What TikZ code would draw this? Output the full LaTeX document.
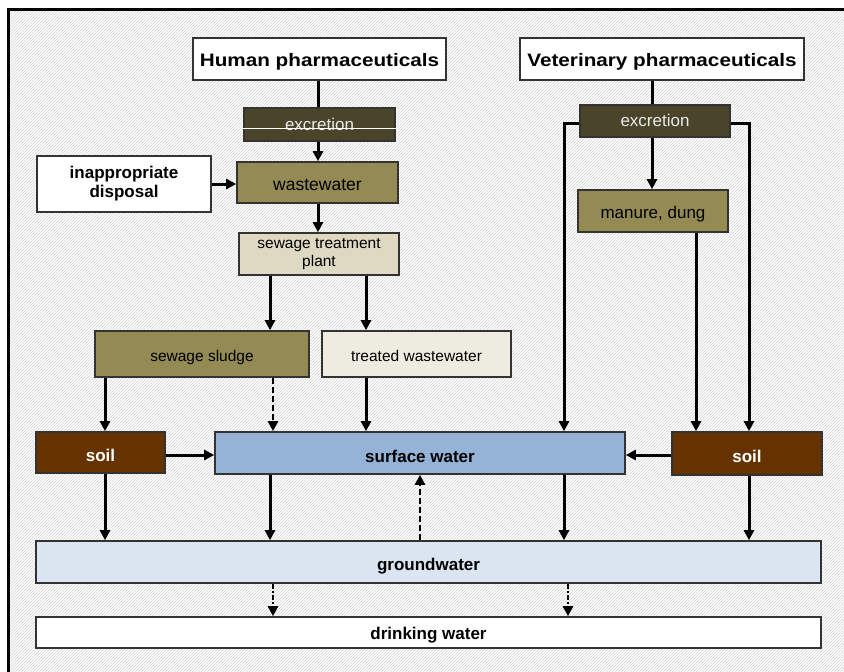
\documentclass[tikz,border=0pt]{standalone}
\usepackage{fontspec}
\setmainfont{Liberation Sans}
\usetikzlibrary{arrows.meta,patterns}
\definecolor{darkolive}{HTML}{4A452A}
\definecolor{olive}{HTML}{948A54}
\definecolor{tanmid}{HTML}{DDD9C3}
\definecolor{tanlight}{HTML}{EEECE1}
\definecolor{soilbrown}{HTML}{663300}
\definecolor{swblue}{HTML}{95B3D7}
\definecolor{gwblue}{HTML}{DBE5F1}
\definecolor{boxline}{HTML}{333333}
\tikzset{
  box/.style={draw=boxline, line width=1.6pt, inner sep=0pt, anchor=center, align=center},
  hdr/.style={box, fill=white, line width=2pt, font=\fontsize{18}{20}\selectfont\bfseries, text height=15.5pt, text depth=0pt},
  reg/.style={font=\fontsize{17}{19}\selectfont},
  sml/.style={font=\fontsize{15.5}{18}\selectfont},
  bld/.style={font=\fontsize{17}{19}\selectfont\bfseries},
  one/.style={text height=#1, text depth=0pt},
  conn/.style={line width=3pt, black},
  arr/.style={conn, -{Triangle[length=10pt,width=10pt]}},
  dsh/.style={arr, line width=2.6pt, dash pattern=on 6pt off 3pt},
  dsd/.style={arr, line width=2.6pt, dash pattern=on 5pt off 2pt on 2pt off 2pt},
}
\begin{document}
\begin{tikzpicture}[x=1pt,y=-1pt]
\useasboundingbox (0,0) rectangle (844,672);
\begin{scope}
\clip (0,0) rectangle (844,672);
\fill[white] (0,0) rectangle (844,672);
\fill[pattern=north east lines, pattern color=black!18] (8,9) rectangle (860,690);
\draw[line width=3pt] (8,9) rectangle (860,690);
\end{scope}

% x positions of connectors
\foreach \n/\x in {c105/105,c270/270,c273/273,c318/318,c366/366,c420/420,c564/564,c568/568,c652/652,c696/696,c749/749}
  \coordinate (\n) at (\x,0);
\coordinate (y455) at (0,455);
\coordinate (y123) at (0,123);

% nodes
\node[hdr, minimum width=253pt, minimum height=42pt] (hp) at (319.5,59) {\scalebox{1.15}[1]{Human pharmaceuticals}};
\node[hdr, minimum width=284pt, minimum height=42pt] (vp) at (662,59) {\scalebox{1.15}[1]{Veterinary pharmaceuticals}};
\node[box, reg, one=11pt, fill=darkolive, text=white!92!black, minimum width=151pt, minimum height=33pt] (hex) at (319.5,124.5) {excretion};
\node[box, font=\fontsize{17.5}{19}\selectfont, one=15pt, fill=olive, minimum width=161pt, minimum height=41pt] (ww) at (317.5,182.5) {wastewater};
\node[box, bld, fill=white, minimum width=174pt, minimum height=56pt] (disp) at (124,184) {inappropriate\\disposal};
\node[box, sml, fill=tanmid, minimum width=160pt, minimum height=42pt] (stp) at (319,254) {sewage treatment\\plant};
\node[box, sml, one=15pt, fill=olive, minimum width=214pt, minimum height=46pt] (sludge) at (202,354) {sewage sludge};
\node[box, sml, one=15pt, fill=tanlight, minimum width=189pt, minimum height=46pt] (treated) at (416.5,354) {treated wastewater};
\node[box, bld, one=18pt, fill=soilbrown, text=white, minimum width=129pt, minimum height=41pt] (soilL) at (100.5,452.5) {soil};
\node[box, bld, one=18pt, fill=swblue, minimum width=410pt, minimum height=42pt] (sw) at (420,453) {surface water};
\node[box, bld, one=18pt, fill=soilbrown, text=white, minimum width=150pt, minimum height=43pt] (soilR) at (747,453.5) {soil};
\node[box, reg, one=10pt, fill=darkolive, text=white!92!black, minimum width=150pt, minimum height=32pt] (vex) at (655,121) {excretion};
\node[box, reg, one=15pt, fill=olive, minimum width=150pt, minimum height=42pt] (manure) at (653,211) {manure, dung};
\node[box, bld, one=16pt, fill=gwblue, minimum width=785pt, minimum height=42pt] (gw) at (428.5,562) {groundwater};
\node[box, bld, one=13pt, fill=white, minimum width=785pt, minimum height=31pt] (dw) at (428.5,632.5) {drinking water};

% white strike line on human excretion
\draw[white, line width=0.8pt] ([yshift=-3.5pt]hex.west) -- ([yshift=-3.5pt]hex.east);

% connectors
\draw[conn] (c318 |- hp.south) -- (c318 |- hex.north);
\draw[arr] (c318 |- hex.south) -- (c318 |- ww.north);
\draw[arr] (c318 |- ww.south) -- (c318 |- stp.north);
\draw[arr] (disp.east) -- (disp.east -| ww.west);
\draw[arr] (c270 |- stp.south) -- (c270 |- sludge.north);
\draw[arr] (c366 |- stp.south) -- (c366 |- treated.north);
\draw[arr] (c105 |- sludge.south) -- (c105 |- soilL.north);
\draw[dsh] (c273 |- sludge.south) -- (c273 |- sw.north);
\draw[arr] (c366 |- treated.south) -- (c366 |- sw.north);
\draw[arr] (soilL.east |- y455) -- (sw.west |- y455);
\draw[arr] (soilR.west |- y455) -- (sw.east |- y455);
\draw[conn] (c652 |- vp.south) -- (c652 |- vex.north);
\draw[arr] (c652 |- vex.south) -- (c652 |- manure.north);
\draw[arr] (vex.west |- y123) -| (c564 |- sw.north);
\draw[arr] (vex.east |- y123) -| (c749 |- soilR.north);
\draw[arr] (c696 |- manure.south) -- (c696 |- soilR.north);
\draw[arr] (c105 |- soilL.south) -- (c105 |- gw.north);
\draw[arr] (c270 |- sw.south) -- (c270 |- gw.north);
\draw[arr] (c564 |- sw.south) -- (c564 |- gw.north);
\draw[arr] (c749 |- soilR.south) -- (c749 |- gw.north);
\draw[dsh] (c420 |- gw.north) -- (c420 |- sw.south);
\draw[dsd] (c273 |- gw.south) -- (c273 |- dw.north);
\draw[dsd] (c568 |- gw.south) -- (c568 |- dw.north);
\end{tikzpicture}
\end{document}
